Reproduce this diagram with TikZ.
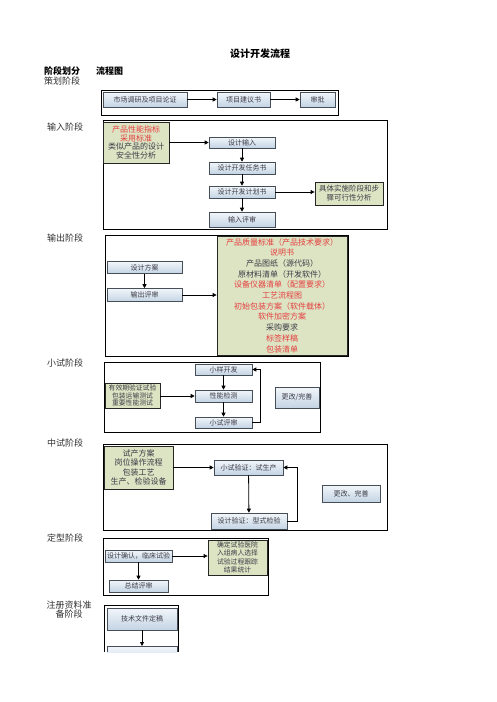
\documentclass[tikz,border=0pt]{standalone}
\usepackage{fontspec}
\setmainfont{Noto Sans CJK SC}
\usetikzlibrary{arrows.meta,shadings}
\definecolor{bluetop}{RGB}{242,246,250}
\definecolor{bluebot}{RGB}{196,212,228}
\definecolor{boxline}{RGB}{70,78,88}
\definecolor{boxtext}{RGB}{60,60,70}
\definecolor{greenfill}{RGB}{221,228,196}
\definecolor{txtred}{RGB}{228,64,64}
\definecolor{labeltext}{RGB}{50,50,50}
\begin{document}
\begin{tikzpicture}[x=1pt,y=-1pt,
  bbox/.style={draw=boxline, line width=0.6pt, top color=bluetop, bottom color=bluebot, inner sep=0pt, text=boxtext, font=\fontsize{7}{8}\selectfont},
  gbox/.style={draw=black!85, line width=0.8pt, fill=greenfill, inner sep=0pt, align=center, text=boxtext},
  frame/.style={draw=black, line width=0.9pt},
  arr/.style={draw=black, line width=0.8pt, -{Triangle[length=4pt,width=4pt]}},
  stagelbl/.style={text=labeltext, font=\fontsize{9}{10}\selectfont, inner sep=0pt},
]
\useasboundingbox (0,0) rectangle (496,702);
\fill[white] (0,0) rectangle (496,702);

% header
\node[font=\bfseries\fontsize{10}{11}\selectfont, inner sep=0pt] (title) at (260,54) {设计开发流程};
\node[font=\bfseries\fontsize{9}{10}\selectfont, inner sep=0pt] (hd1) at (62,71.5) {阶段划分};
\node[font=\bfseries\fontsize{9}{10}\selectfont, inner sep=0pt] (hd2) at (109.5,71.5) {流程图};

% stage labels
\node[stagelbl] (s0) at (62,81) {策划阶段};
\node[stagelbl] (s1) at (65,127) {输入阶段};
\node[stagelbl] (s2) at (65,238) {输出阶段};
\node[stagelbl] (s3) at (65,363) {小试阶段};
\node[stagelbl] (s4) at (65,443) {中试阶段};
\node[stagelbl] (s5) at (65,538) {定型阶段};
\node[stagelbl] (s6a) at (69,605) {注册资料准};
\node[stagelbl] (s6b) at (69,614.5) {备阶段};

% ---- planning
\draw[frame] (101,90) rectangle (338,115);
\node[bbox, minimum width=84pt, minimum height=15pt] (a1) at (145,99.5) {市场调研及项目论证};
\node[bbox, minimum width=53pt, minimum height=15pt] (a2) at (243.5,99.5) {项目建议书};
\node[bbox, minimum width=35pt, minimum height=15pt] (a3) at (317.5,99.5) {审批};
\draw[arr] (a1) -- (a2);
\draw[arr] (a2) -- (a3);

% ---- input
\draw[frame] (103,120) rectangle (387,229);
\node[gbox, minimum width=66pt, minimum height=41pt, font=\fontsize{8}{8.6}\selectfont] (g1) at (136,142.5)
  {{\color{txtred}产品性能指标}\\{\color{txtred}采用标准}\\类似产品的设计\\安全性分析};
\node[bbox, minimum width=66pt, minimum height=11pt] (b1) at (242,142.5) {设计输入};
\node[bbox, minimum width=66pt, minimum height=12pt] (b2) at (242,168) {设计开发任务书};
\node[bbox, minimum width=66pt, minimum height=12pt] (b3) at (242,192) {设计开发计划书};
\node[bbox, minimum width=66pt, minimum height=15pt] (b4) at (242,219.5) {输入评审};
\node[gbox, minimum width=68pt, minimum height=23pt, font=\fontsize{7.5}{9}\selectfont] (g2) at (349,193.5)
  {具体实施阶段和步\\骤可行性分析};
\draw[arr] (g1.east) -- (b1.west);
\draw[arr] (b1) -- (b2);
\draw[arr] (b2) -- (b3);
\draw[arr] (b3) -- (b4);
\draw[arr] (b3.east) -- (g2.west |- b3.east);

% ---- output
\draw[frame] (105,235) rectangle (348,356);
\node[bbox, minimum width=75pt, minimum height=12pt] (c1) at (144.5,267.5) {设计方案};
\node[bbox, minimum width=75pt, minimum height=13pt] (c2) at (144.5,295) {输出评审};
\node[gbox, minimum width=130pt, minimum height=119pt, font=\fontsize{8}{10.7}\selectfont] (g3) at (282,295.5)
  {{\color{txtred}产品质量标准（产品技术要求）}\\
   {\color{txtred}说明书}\\
   产品图纸（源代码）\\
   原材料清单（开发软件）\\
   {\color{txtred}设备仪器清单（配置要求）}\\
   {\color{txtred}工艺流程图}\\
   {\color{txtred}初始包装方案（软件载体）}\\
   {\color{txtred}软件加密方案}\\
   采购要求\\
   {\color{txtred}标签样稿}\\
   {\color{txtred}包装清单}};
\draw[arr] (c1) -- (c2);
\draw[arr] (c2.east) -- (g3.west |- c2.east);

% ---- small trial
\draw[frame] (104,362) rectangle (320,432);
\node[bbox, minimum width=57pt, minimum height=11pt] (d1) at (223.5,369.5) {小样开发};
\node[bbox, minimum width=57pt, minimum height=12pt] (d2) at (223.5,396) {性能检测};
\node[bbox, minimum width=57pt, minimum height=11pt] (d3) at (223.5,422.5) {小试评审};
\node[gbox, minimum width=55pt, minimum height=25pt, font=\fontsize{6.8}{7.8}\selectfont] (g4) at (132.5,395.5)
  {有效期验证试验\\包装运输测试\\重要性能测试};
\node[bbox, minimum width=44pt, minimum height=21pt] (e1) at (297,397.5) {更改/完善};
\coordinate (l1a) at (260,422.5);
\coordinate (l1b) at (260,369.5);
\draw[arr] (d1) -- (d2);
\draw[arr] (d2) -- (d3);
\draw[arr] (g4.east |- d2.west) -- (d2.west);
\draw[arr] (d3.east) -- (l1a) -- (l1b) -- (d1.east);

% ---- mid trial
\draw[frame] (103,444) rectangle (387,530);
\node[gbox, minimum width=69pt, minimum height=43pt, font=\fontsize{8}{9.6}\selectfont] (g5) at (138.5,467.5)
  {试产方案\\岗位操作流程\\包装工艺\\生产、检验设备};
\node[bbox, minimum width=69pt, minimum height=15pt] (f1) at (248.5,467.5) {小试验证：试生产};
\node[bbox, minimum width=76pt, minimum height=16pt] (f2) at (249,521) {设计验证：型式检验};
\node[bbox, minimum width=58pt, minimum height=17pt] (e2) at (351,493.5) {更改、完善};
\coordinate (l2a) at (297,521);
\coordinate (l2b) at (297,467.5);
\draw[arr] (g5.east) -- (f1.west);
\draw[arr] (f1) -- (f2);
\draw[arr] (f2.east) -- (l2a) -- (l2b) -- (f1.east);

% ---- finalize
\draw[frame] (103,538) rectangle (268,595);
\node[bbox, minimum width=67pt, minimum height=12pt] (h1) at (138.5,556) {设计确认，临床试验};
\node[gbox, minimum width=59pt, minimum height=35pt, font=\fontsize{6.8}{8.4}\selectfont] (g6) at (237.5,557.5)
  {确定试验医院\\入组病人选择\\试验过程跟踪\\结果统计};
\node[bbox, minimum width=59pt, minimum height=12pt] (h2) at (138.5,586) {总结评审};
\draw[arr] (h1.east) -- (g6.west |- h1.east);
\draw[arr] (h1) -- (h2);

% ---- registration
\draw[black, line width=0.9pt] (104,652) -- (104,605) -- (178,605) -- (178,652);
\node[bbox, minimum width=70pt, minimum height=22pt] (i1) at (142,619) {技术文件定稿};
\shade[top color=bluetop, bottom color=bluetop!70!bluebot] (107,646) rectangle (177,652);
\draw[boxline, line width=0.6pt] (107,652) -- (107,646) -- (177,646) -- (177,652);
\coordinate (i2) at (142,646);
\draw[arr] (i1.south) -- (i2);
\end{tikzpicture}
\end{document}
